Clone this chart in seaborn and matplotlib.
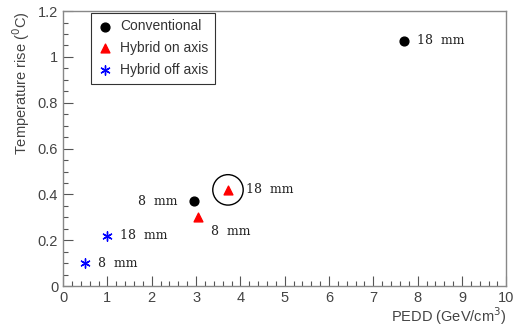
import matplotlib
matplotlib.use('agg')
import matplotlib.pyplot as plt
from matplotlib.ticker import MultipleLocator
import seaborn as sns
import pandas as pd

# data
groups = ['Conventional', 'Conventional', 'Hybrid on axis', 'Hybrid on axis',
          'Hybrid off axis', 'Hybrid off axis']
pedd = [2.95, 7.7, 3.05, 3.72, 1.0, 0.5]
temp_rise = [0.37, 1.07, 0.30, 0.42, 0.22, 0.10]
sizes_mm = ['8  mm', '18  mm', '8  mm', '18  mm', '18  mm', '8  mm']
# label offsets (points) relative to the marker
label_dx = [-40, 9, 9, 13, 9, 9]
label_dy = [0, 0, -10, 0, 0, 0]

df = pd.DataFrame({'group': groups, 'pedd': pedd, 'rise': temp_rise, 'lab': sizes_mm})

sns.set_style('white')
plt.rcParams['font.family'] = ['Liberation Sans', 'DejaVu Sans']

fig, ax = plt.subplots(figsize=(5.13, 3.27), dpi=100)
fig.subplots_adjust(left=0.123, right=0.987, top=0.966, bottom=0.125)

styles = {'Conventional': ('black', 'o', 40),
          'Hybrid on axis': ('red', '^', 40),
          'Hybrid off axis': ('blue', (6, 2, 0), 45)}
for g, (c, m, s) in styles.items():
    sub = df[df.group == g]
    sns.scatterplot(data=sub, x='pedd', y='rise', color=c, marker=m, s=s,
                    edgecolor=c, linewidth=1.0, ax=ax, label=g, zorder=3)

# circle around the highlighted point
ax.scatter([pedd[3]], [temp_rise[3]], s=480, facecolors='none',
           edgecolors='black', linewidth=1.0, zorder=2)

for x, y, t, dx, dy in zip(pedd, temp_rise, sizes_mm, label_dx, label_dy):
    ax.annotate(t, (x, y), xytext=(dx, dy), textcoords='offset points',
                va='center', ha='left', fontsize=9, family='DejaVu Serif',
                color='#222222')

ax.set_xlim(0, 10)
ax.set_ylim(0, 1.2)
ax.xaxis.set_minor_locator(MultipleLocator(0.2))
ax.yaxis.set_minor_locator(MultipleLocator(0.05))
ax.set_xticks(range(11))
ax.set_xticklabels(['0', '1', '2', '3', '4', '5', '6', '7', '8', '9', '10'])
ax.set_yticks([0, 0.2, 0.4, 0.6, 0.8, 1.0, 1.2])
ax.set_yticklabels(['0', '0.2', '0.4', '0.6', '0.8', '1', '1.2'])
ax.tick_params(which='both', direction='in', color='#555555', labelcolor='#444444',
               labelsize=10.5, top=False, right=False, left=True, bottom=True)
ax.tick_params(which='major', length=7, width=0.8)
ax.tick_params(which='minor', length=3.5, width=0.8)
for sp in ax.spines.values():
    sp.set_color('#888888')
    sp.set_linewidth(1.0)

ax.set_xlabel('PEDD (GeV/cm$^3$)', fontsize=10.5, color='#444444', loc='right',
              labelpad=0)
ax.set_ylabel('Temperature rise ($^{0}$C)', fontsize=10.5, color='#444444', loc='top')

leg = ax.legend(loc='upper left', bbox_to_anchor=(0.06, 1.0), borderaxespad=0.1,
                fontsize=10, frameon=True, fancybox=False, edgecolor='black',
                handletextpad=0.6, borderpad=0.5, labelspacing=0.55,
                handlelength=1.0)
leg.get_frame().set_linewidth(0.8)
for t in leg.get_texts():
    t.set_color('#333333')

fig.savefig('out.png', dpi=100)
